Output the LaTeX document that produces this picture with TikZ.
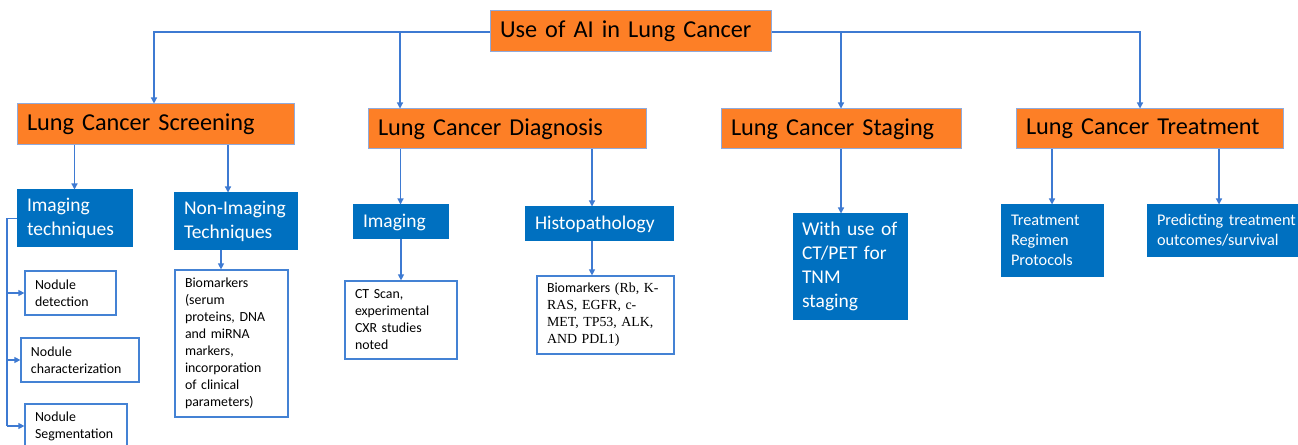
\documentclass[tikz,border=0pt]{standalone}
\usepackage{fontspec}
\setmainfont{Carlito}
\newfontfamily\rbserif{Liberation Serif}
\usetikzlibrary{arrows.meta, calc}
\definecolor{lcOrange}{RGB}{253,127,38}
\definecolor{lcEdge}{RGB}{143,170,220}
\definecolor{lcBlue}{RGB}{0,112,192}
\definecolor{lcNote}{RGB}{68,130,212}
\definecolor{lcLine}{RGB}{62,122,210}
\tikzset{
    aiBase/.style={
        line width=0.75pt, align=left, inner xsep=7.5pt, inner ysep=2pt
    },
    aiHeader/.style={
        aiBase, draw=lcEdge, fill=lcOrange, text=black, font=\fontsize{18.2}{22}\selectfont
    },
    aiBranch/.style={
        aiBase, draw=lcBlue, fill=lcBlue, text=white, font=\fontsize{14.6}{17.8}\selectfont
    },
    aiSmallBranch/.style={
        aiBranch, font=\fontsize{12.2}{15}\selectfont
    },
    aiNote/.style={
        aiBase, draw=lcNote, line width=0.9pt, fill=white, text=black, font=\fontsize{10.4}{12.75}\selectfont
    },
    aiLine/.style={
        draw=lcLine, line width=0.9pt
    },
    aiArrow/.style={
        aiLine, -{Triangle[length=4.5pt, width=4.5pt]}
    }
}
\begin{document}
\begin{tikzpicture}[x=0.75pt, y=-0.75pt]
    \useasboundingbox (0,0) rectangle (1298,445);
    \clip (0,0) rectangle (1298,445);
    \fill[white] (0,0) rectangle (1298,445);

    % ── ROOT
    \node[aiHeader, text width=195.75pt, minimum height=30.75pt] (top) at (630.5,31.5) {Use of AI in Lung Cancer};

    % ── MAIN BRANCHES
    \node[aiHeader, text width=192.75pt, minimum height=30.75pt] (screen) at (155.5,124.5) {Lung Cancer Screening};
    \node[aiHeader, text width=193.5pt, minimum height=30pt] (diag) at (507,129) {Lung Cancer Diagnosis};
    \node[aiHeader, text width=165pt, minimum height=30pt] (stage) at (841,129) {Lung Cancer Staging};
    \node[aiHeader, text width=185.25pt, minimum height=30pt] (treat) at (1149.5,129) {Lung Cancer Treatment};

    % ── SCREENING
    \node[aiBranch, text width=71.25pt, minimum height=42.75pt] (imgTech) at (74.5,218.5) {Imaging\\techniques};
    \node[aiBranch, text width=77.25pt, minimum height=42.75pt] (nonImg) at (235.5,221.5) {Non-Imaging\\Techniques};
    \node[aiNote, text width=69.75pt, minimum height=110.25pt] (bioScreen) at (231.5,343.5) {Biomarkers\\(serum\\proteins, DNA\\and miRNA\\markers,\\incorporation\\of clinical\\parameters)};
    \node[aiNote, text width=53.25pt, minimum height=33pt] (nodDet) at (70.5,293) {Nodule\\detection};
    \node[aiNote, text width=73.5pt, minimum height=33pt] (nodChar) at (80,360) {Nodule\\characterization};
    \node[aiNote, text width=61.5pt, minimum height=33pt] (nodSeg) at (76,426) {Nodule\\Segmentation};

    % ── DIAGNOSIS
    \node[aiBranch, text width=56.25pt, minimum height=25.5pt] (dImg) at (400.5,222) {Imaging};
    \node[aiBranch, text width=96pt, minimum height=25.5pt] (histo) at (599,224) {Histopathology};
    \node[aiNote, text width=69pt, minimum height=58.5pt] (ctScan) at (401,320) {CT Scan,\\experimental\\CXR studies\\noted};
    \node[aiNote, text width=87.75pt, minimum height=58.5pt] (rbBio) at (605.5,315) {Biomarkers {\rbserif (Rb, K-}\\{\rbserif RAS, EGFR, c-}\\{\rbserif MET, TP53, ALK,}\\{\rbserif AND PDL1)}};

    % ── STAGING
    \node[aiBranch, text width=72pt, inner xsep=6.75pt, minimum height=78.75pt] (tnm) at (850,266.5) {With use of\\CT/PET for\\TNM\\staging};

    % ── TREATMENT
    \node[aiSmallBranch, text width=61.5pt, minimum height=53.25pt] (regimen) at (1052,240.5) {Treatment\\Regimen\\Protocols};
    \node[aiSmallBranch, text width=107.25pt, minimum height=38.25pt] (predict) at (1228.5,230.5) {Predicting treatment\\outcomes/survival};

    % ── CONNECTORS
    \coordinate (jL) at (154,32);
    \coordinate (jR) at (1140,32);
    \coordinate (jDiag) at (400,32);
    \coordinate (jStage) at (841,32);
    \draw[aiArrow] (top.west |- jL) -- (jL) -- (jL |- screen.north);
    \draw[aiArrow] (top.east |- jR) -- (jR) -- (jR |- treat.north);
    \draw[aiArrow] (jDiag) -- (jDiag |- diag.north);
    \draw[aiArrow] (jStage) -- (jStage |- stage.north);

    \draw[aiArrow] (screen.south -| imgTech.north) -- (imgTech.north);
    \draw[aiArrow] (screen.south -| 228,0) -- (228,0 |- nonImg.north);
    \draw[aiArrow] (nonImg.south -| 221,0) -- (221,0 |- bioScreen.north);

    \coordinate (brk) at (7,218.5);
    \draw[aiLine] (imgTech.west) -- (brk) -- (brk |- nodSeg.west);
    \draw[aiArrow] (brk |- nodDet.west) -- (nodDet.west);
    \draw[aiArrow] (brk |- nodChar.west) -- (nodChar.west);
    \draw[aiArrow] (brk |- nodSeg.west) -- (nodSeg.west);

    \draw[aiArrow] (diag.south -| dImg.north) -- (dImg.north);
    \draw[aiArrow] (diag.south -| 592,0) -- (592,0 |- histo.north);
    \draw[aiArrow] (dImg.south -| ctScan.north) -- (ctScan.north);
    \draw[aiArrow] (histo.south -| 592,0) -- (592,0 |- rbBio.north);

    \draw[aiArrow] (stage.south) -- (stage.south |- tnm.north);

    \draw[aiArrow] (treat.south -| regimen.north) -- (regimen.north);
    \draw[aiArrow] (treat.south -| 1219,0) -- (1219,0 |- predict.north);
\end{tikzpicture}
\end{document}
